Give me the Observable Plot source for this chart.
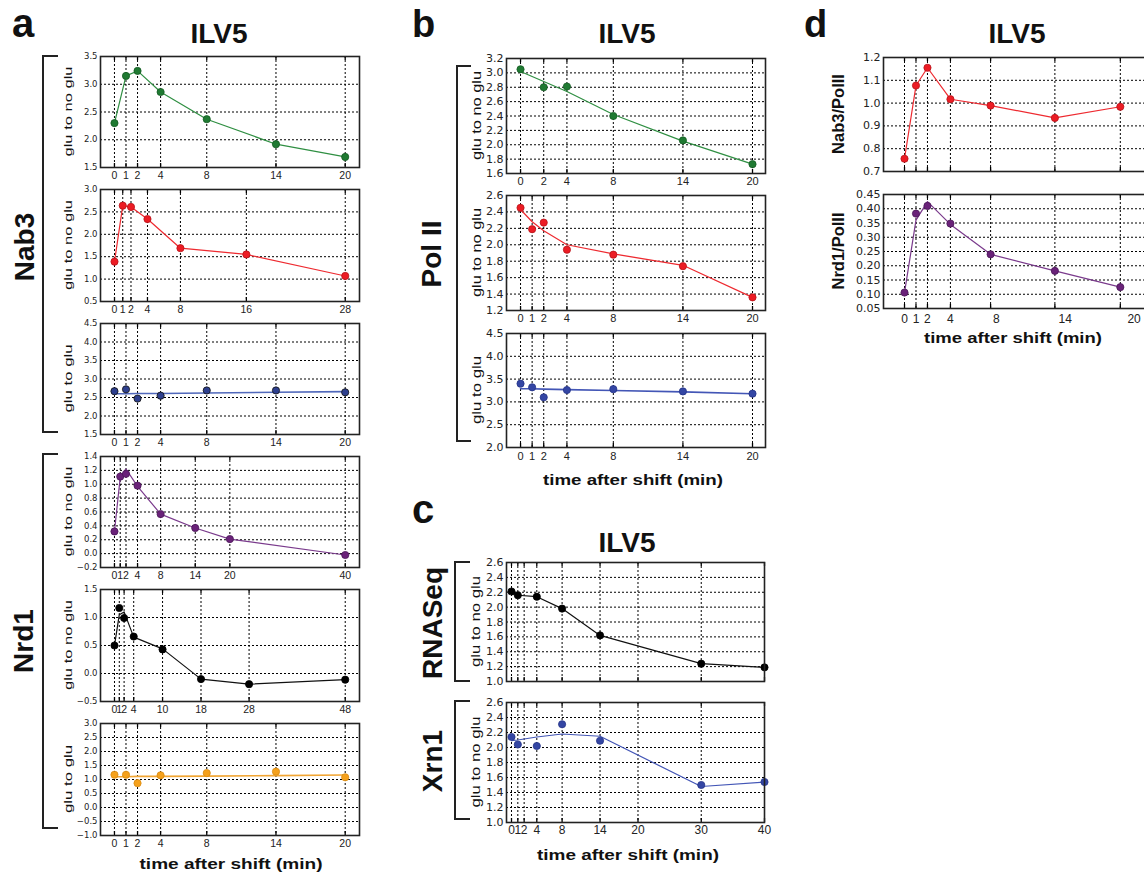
<!DOCTYPE html>
<html><head><meta charset="utf-8">
<script src="https://cdn.jsdelivr.net/npm/d3@7"></script>
<script src="https://cdn.jsdelivr.net/npm/@observablehq/plot@0.6"></script>
<style>
html,body{margin:0;padding:0;background:#fff;overflow:hidden}
#fig{position:relative;width:1144px;height:877px;overflow:hidden;background:#fff}
</style></head><body><div id="fig"></div>
<script>
// ---------------- data ----------------
// panel a — Nab3
const a1Time = [0, 1, 2, 4, 8, 14, 20];
const a1Val  = [2.30, 3.15, 3.24, 2.86, 2.37, 1.92, 1.69];
const a2Time = [0, 1, 2, 4, 8, 16, 28];
const a2Val  = [1.39, 2.64, 2.61, 2.34, 1.69, 1.55, 1.07];
const a3Time = [0, 1, 2, 4, 8, 14, 20];
const a3Val  = [2.67, 2.72, 2.47, 2.55, 2.69, 2.69, 2.64];
const a3Fit  = [2.60, 2.60, 2.61, 2.61, 2.62, 2.64, 2.66];
// panel a — Nrd1
const a4Time = [0, 1, 2, 4, 8, 14, 20, 40];
const a4Val  = [0.32, 1.11, 1.15, 0.98, 0.57, 0.37, 0.21, -0.02];
const a4Fit  = [0.32, 1.10, 1.22, 0.97, 0.57, 0.37, 0.21, -0.02];
const a5Time = [0, 1, 2, 4, 10, 18, 28, 48];
const a5Val  = [0.50, 1.17, 0.99, 0.66, 0.43, -0.10, -0.19, -0.11];
const a5Fit  = [0.50, 1.05, 1.10, 0.65, 0.44, -0.10, -0.19, -0.11];
const a6Time = [0, 1, 2, 4, 8, 14, 20];
const a6Val  = [1.17, 1.17, 0.87, 1.15, 1.23, 1.28, 1.08];
const a6Fit  = [1.10, 1.10, 1.11, 1.11, 1.12, 1.14, 1.16];
// panel b — Pol II
const b1Time = [0, 2, 4, 8, 14, 20];
const b1Val  = [3.05, 2.80, 2.81, 2.40, 2.06, 1.73];
const b1Fit  = [3.02, 2.88, 2.74, 2.42, 2.05, 1.73];
const b2Time = [0, 1, 2, 4, 8, 14, 20];
const b2Val  = [2.45, 2.19, 2.27, 1.94, 1.88, 1.74, 1.36];
const b2Fit  = [2.43, 2.28, 2.17, 2.00, 1.89, 1.75, 1.36];
const b3Time = [0, 1, 2, 4, 8, 14, 20];
const b3Val  = [3.40, 3.32, 3.10, 3.26, 3.28, 3.23, 3.18];
const b3Fit  = [3.29, 3.29, 3.28, 3.27, 3.25, 3.22, 3.18];
// panel c — RNASeq, Xrn1
const c1Time = [0, 1, 4, 8, 14, 30, 40];
const c1Val  = [2.21, 2.16, 2.14, 1.98, 1.62, 1.24, 1.19];
const c2Time = [0, 1, 4, 8, 14, 30, 40];
const c2Val  = [2.14, 2.04, 2.02, 2.31, 2.09, 1.50, 1.54];
const c2Fit  = [2.09, 2.10, 2.14, 2.18, 2.15, 1.48, 1.54];
// panel d — ratios
const dTime  = [0, 1, 2, 4, 7.5, 13.1, 18.8];
const d1Val  = [0.756, 1.077, 1.155, 1.017, 0.989, 0.935, 0.984];
const d2Val  = [0.106, 0.383, 0.410, 0.348, 0.240, 0.182, 0.125];
const d2Fit  = [0.106, 0.360, 0.425, 0.345, 0.240, 0.182, 0.125];

// tick values / labels
const xTicksA  = [0, 1, 2, 4, 8, 14, 20];
const xTicksA2 = [0, 1, 2, 4, 8, 16, 28];
const xTicksA4 = [0, 1, 2, 4, 8, 14, 20, 40];
const xTicksA5 = [0, 1, 2, 4, 10, 18, 28, 48];
const xTicksB1 = [0, 2, 4, 8, 14, 20];
const xTicksB  = [0, 1, 2, 4, 8, 14, 20];
const xTicksC  = [0, 1, 2, 4, 8, 14, 20, 30, 40];
const xTicksD  = [0, 1, 2, 4, 8, 14, 20];
const yTicksA1 = [1.5, 2.0, 2.5, 3.0, 3.5];
const yTicksA2 = [0.5, 1.0, 1.5, 2.0, 2.5, 3.0];
const yTicksA3 = [1.5, 2.0, 2.5, 3.0, 3.5, 4.0, 4.5];
const yTicksA4 = [-0.2, 0.0, 0.2, 0.4, 0.6, 0.8, 1.0, 1.2, 1.4];
const yTicksA5 = [-0.5, 0.0, 0.5, 1.0, 1.5];
const yTicksA6 = [-1.0, -0.5, 0.0, 0.5, 1.0, 1.5, 2.0, 2.5, 3.0];
const yTicksB1 = [1.6, 1.8, 2.0, 2.2, 2.4, 2.6, 2.8, 3.0, 3.2];
const yTicksB2 = [1.2, 1.4, 1.6, 1.8, 2.0, 2.2, 2.4, 2.6];
const yTicksB3 = [2.0, 2.5, 3.0, 3.5, 4.0, 4.5];
const yTicksC  = [1.0, 1.2, 1.4, 1.6, 1.8, 2.0, 2.2, 2.4, 2.6];
const yTicksD1 = [0.7, 0.8, 0.9, 1.0, 1.1, 1.2];
const yTicksD2 = [0.05, 0.10, 0.15, 0.20, 0.25, 0.30, 0.35, 0.40, 0.45];

// colours
const GREEN = {fill: "#1f7a32", stroke: "#145a22", line: "#2f8f42"};
const RED = {fill: "#ec1c24", stroke: "#b8141a", line: "#ee2a30"};
const NAVY = {fill: "#2d3f8e", stroke: "#111", line: "#5068bb"};
const PURPLE = {fill: "#6a2279", stroke: "#4a1658", line: "#7a3a8c"};
const BLACK = {fill: "#000", stroke: "#000", line: "#111"};
const ORANGE = {fill: "#f5a11c", stroke: "#d98a10", line: "#f2a634"};
const BLUE = {fill: "#3446a4", stroke: "#243488", line: "#4356b6"};

// ---------------- drawing ----------------
const fig = document.getElementById("fig");

function panel(p) {
  const ml = 50, mr = 14, mt = 6, mb = 26;
  const [y0, y1] = p.yDomain;
  const k = (y1 - y0) * 4 / p.h;
  const vals = p.val;
  const fit = p.fit || p.val;
  const rows = p.time.map((t, i) => ({t, v: vals[i]}));
  const fitRows = p.time.map((t, i) => ({t, v: fit[i]}));
  const inner = p.yTicks.filter(v => v > y0 + 1e-9 && v < y1 - 1e-9);
  const grid = p.xGrid || p.xTicks;
  const marks = [
    Plot.ruleY(inner, {stroke: "#000", strokeWidth: 1, strokeDasharray: "2,2"}),
    Plot.ruleX(grid, {stroke: "#000", strokeWidth: 1, strokeDasharray: "2,2"}),
    Plot.ruleX(grid, {y1: () => y1, y2: () => y1 - k, stroke: "#000", strokeWidth: 1.3}),
    Plot.ruleX(grid, {y1: () => y0, y2: () => y0 + k, stroke: "#000", strokeWidth: 1.3}),
    Plot.line(fitRows, {x: "t", y: "v", stroke: p.c.line, strokeWidth: p.lw || 1.2}),
    Plot.dot(rows, {x: "t", y: "v", r: 3.6, fill: p.c.fill, stroke: p.c.stroke, strokeWidth: 0.8}),
    Plot.frame({stroke: "#222", strokeWidth: 1.6}),
    Plot.axisY(p.yTicks, {tickSize: 0, tickPadding: 3, tickFormat: d3.format(p.yFmt || ".1f"), label: null,
      fontSize: p.yFont, fontFamily: "DejaVu Sans, sans-serif", fill: "#222"})
  ];
  if (p.showX !== false) {
    marks.push(Plot.axisX(p.xTicks, {tickSize: 0, tickPadding: p.xPad || 4, tickFormat: d => String(d), label: null,
      fontSize: p.xFont || 11, fontFamily: "Liberation Sans, Arial, sans-serif", fill: "#222"}));
  }
  const el = Plot.plot({
    width: p.w + ml + mr, height: p.h + mt + mb,
    marginLeft: ml, marginRight: mr, marginTop: mt, marginBottom: mb,
    x: {domain: p.xDomain, axis: null, label: null},
    y: {domain: p.yDomain, axis: null, label: null},
    style: {fontFamily: "Liberation Sans, Arial, sans-serif", background: "transparent", overflow: "visible"},
    marks
  });
  el.style.position = "absolute";
  el.style.left = (p.left - ml) + "px";
  el.style.top = (p.top - mt) + "px";
  fig.appendChild(el);
}

const domA = [-1.21, 21.24];
// panel a
panel({left: 100, top: 56, w: 259, h: 111, xDomain: domA, yDomain: [1.5, 3.5], xTicks: xTicksA, yTicks: yTicksA1, time: a1Time, val: a1Val, c: GREEN, yFont: 8.5, xFont: 10.5});
panel({left: 100, top: 189, w: 259, h: 112, xDomain: [-1.70, 29.73], yDomain: [0.5, 3.0], xTicks: xTicksA2, yTicks: yTicksA2, time: a2Time, val: a2Val, c: RED, yFont: 8.5, xFont: 10.5});
panel({left: 100, top: 323, w: 259, h: 111, xDomain: domA, yDomain: [1.5, 4.5], xTicks: xTicksA, yTicks: yTicksA3, time: a3Time, val: a3Val, fit: a3Fit, c: NAVY, lw: 1.6, yFont: 8.5, xFont: 10.5});
panel({left: 100, top: 456, w: 259, h: 111, xDomain: [-2.42, 42.47], yDomain: [-0.2, 1.4], xTicks: xTicksA4, yTicks: yTicksA4, time: a4Time, val: a4Val, fit: a4Fit, c: PURPLE, yFont: 8.5, xFont: 10.5});
panel({left: 100, top: 589, w: 259, h: 112, xDomain: [-2.91, 50.97], yDomain: [-0.5, 1.5], xTicks: xTicksA5, yTicks: yTicksA5, time: a5Time, val: a5Val, fit: a5Fit, c: BLACK, yFont: 8.5, xFont: 10.5});
panel({left: 100, top: 723, w: 259, h: 112, xDomain: domA, yDomain: [-1.0, 3.0], xTicks: xTicksA, yTicks: yTicksA6, time: a6Time, val: a6Val, fit: a6Fit, c: ORANGE, lw: 1.6, yFont: 8.5, xFont: 10.5});
// panel b
const domB = [-1.21, 21.12];
panel({left: 506, top: 58, w: 259, h: 115, xDomain: domB, yDomain: [1.6, 3.2], xTicks: xTicksB1, yTicks: yTicksB1, time: b1Time, val: b1Val, fit: b1Fit, c: GREEN, yFont: 11, xFont: 11});
panel({left: 506, top: 195, w: 259, h: 115, xDomain: domB, yDomain: [1.2, 2.6], xTicks: xTicksB, yTicks: yTicksB2, time: b2Time, val: b2Val, fit: b2Fit, c: RED, yFont: 11, xFont: 11});
panel({left: 506, top: 333, w: 259, h: 114, xDomain: domB, yDomain: [2.0, 4.5], xTicks: xTicksB, yTicks: yTicksB3, time: b3Time, val: b3Val, fit: b3Fit, c: BLUE, lw: 1.6, yFont: 11, xFont: 11, xPad: 5});
// panel c
const domC = [-0.79, 40];
panel({left: 506, top: 562, w: 258, h: 119, xDomain: domC, yDomain: [1.0, 2.6], xTicks: xTicksC, yTicks: yTicksC, time: c1Time, val: c1Val, c: BLACK, yFont: 11, showX: false});
panel({left: 506, top: 702, w: 258, h: 120, xDomain: domC, yDomain: [1.0, 2.6], xTicks: xTicksC, yTicks: yTicksC, time: c2Time, val: c2Val, fit: c2Fit, c: BLUE, yFont: 11, xFont: 12, xPad: 3});
// panel d
const domD = [-1.83, 22.3];
panel({left: 883, top: 57, w: 277, h: 114, xDomain: domD, yDomain: [0.7, 1.2], xTicks: xTicksD, xGrid: dTime, yTicks: yTicksD1, time: dTime, val: d1Val, c: RED, yFont: 11, showX: false});
panel({left: 883, top: 194, w: 277, h: 114, xDomain: domD, yDomain: [0.05, 0.45], xTicks: xTicksD, xGrid: dTime, yTicks: yTicksD2, yFmt: ".2f", time: dTime, val: d2Val, fit: d2Fit, c: PURPLE, yFont: 11, xFont: 12, xPad: 6});

// ---------------- annotation overlay ----------------
const NS = "http://www.w3.org/2000/svg";
const ov = document.createElementNS(NS, "svg");
ov.setAttribute("width", 1144); ov.setAttribute("height", 877);
ov.style.position = "absolute"; ov.style.left = "0"; ov.style.top = "0"; ov.style.pointerEvents = "none";
fig.appendChild(ov);

function txt(s, x, y, o = {}) {
  const t = document.createElementNS(NS, "text");
  t.textContent = s;
  t.setAttribute("font-family", "Liberation Sans, Arial, sans-serif");
  t.setAttribute("font-size", o.size || 12);
  t.setAttribute("font-weight", o.bold ? "bold" : "normal");
  t.setAttribute("text-anchor", o.anchor || "middle");
  t.setAttribute("fill", "#111");
  if (o.len) { t.setAttribute("textLength", o.len); t.setAttribute("lengthAdjust", "spacingAndGlyphs"); }
  if (o.rot) {
    t.setAttribute("transform", `translate(${x},${y}) rotate(-90)`);
    t.setAttribute("dy", "0.35em");
  } else { t.setAttribute("x", x); t.setAttribute("y", y); }
  ov.appendChild(t);
}
function bracket(d) {
  const p = document.createElementNS(NS, "path");
  p.setAttribute("d", d); p.setAttribute("fill", "none");
  p.setAttribute("stroke", "#222"); p.setAttribute("stroke-width", 2);
  ov.appendChild(p);
}

// panel letters
txt("a", 12, 37, {size: 40, bold: true, anchor: "start"});
txt("b", 412, 37, {size: 38, bold: true, anchor: "start"});
txt("c", 412, 523, {size: 40, bold: true, anchor: "start"});
txt("d", 804, 37, {size: 38, bold: true, anchor: "start"});
// titles
txt("ILV5", 219, 43, {size: 28, bold: true});
txt("ILV5", 627, 43, {size: 28, bold: true});
txt("ILV5", 627, 552, {size: 28, bold: true});
txt("ILV5", 1017, 43, {size: 28, bold: true});
// group labels
txt("Nab3", 24, 247, {size: 28, bold: true, rot: true});
txt("Nrd1", 23, 641, {size: 28, bold: true, rot: true});
txt("Pol II", 431, 254, {size: 28, bold: true, rot: true});
txt("RNASeq", 432, 623, {size: 28, bold: true, rot: true});
txt("Xrn1", 432, 761, {size: 28, bold: true, rot: true});
// brackets
bracket("M58,56 H43 V432 H58");
bracket("M58,454 H43 V828 H58");
bracket("M471,66 H457 V441 H471");
bracket("M470,562 H455 V681 H470");
bracket("M470,701 H455 V819 H470");
// y-axis titles
const yA = [[111.5, "glu to no glu", 90], [245, "glu to no glu", 90], [378.5, "glu to glu", 68],
            [511.5, "glu to no glu", 90], [645, "glu to no glu", 90], [779, "glu to glu", 68]];
yA.forEach(([cy, s, l]) => txt(s, 68, cy, {size: 11, rot: true, len: l}));
txt("glu to no glu", 477, 115.5, {size: 12.5, rot: true, len: 89});
txt("glu to no glu", 477, 252.5, {size: 12.5, rot: true, len: 89});
txt("glu to glu", 477, 390, {size: 12.5, rot: true, len: 68});
txt("glu to no glu", 476, 621.5, {size: 12.5, rot: true, len: 91});
txt("glu to no glu", 476, 762, {size: 12.5, rot: true, len: 91});
txt("Nab3/PolII", 838, 114, {size: 16.5, bold: true, rot: true});
txt("Nrd1/PolII", 838, 251, {size: 16.5, bold: true, rot: true});
// x-axis titles
txt("time after shift (min)", 231, 869, {size: 15.5, bold: true, len: 183});
txt("time after shift (min)", 633, 485, {size: 15.5, bold: true, len: 180});
txt("time after shift (min)", 628, 860, {size: 15.5, bold: true, len: 182});
txt("time after shift (min)", 1013, 343, {size: 15.5, bold: true, len: 178});
</script>
</body></html>
